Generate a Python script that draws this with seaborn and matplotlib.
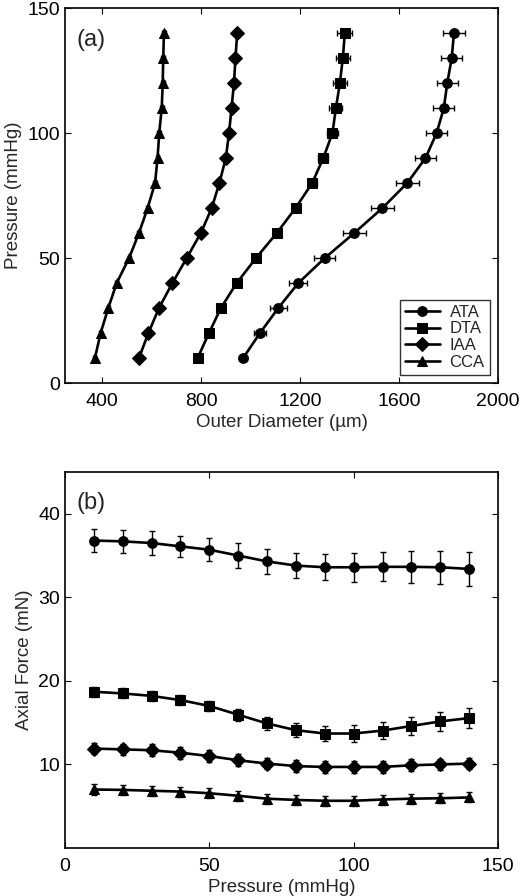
import numpy as np
import pandas as pd
import seaborn as sns
import matplotlib.pyplot as plt

# 压力点
pressure = [10, 20, 30, 40, 50, 60, 70, 80, 90, 100, 110, 120, 130, 140]
arteries = ["ATA", "DTA", "IAA", "CCA"]
marker_map = {"ATA": "o", "DTA": "s", "IAA": "D", "CCA": "^"}

# (a) 外径 (µm)
od_ata = [970, 1038, 1112, 1193, 1300, 1419, 1533, 1633, 1707, 1752, 1781, 1795, 1813, 1822]
od_dta = [786, 832, 880, 944, 1022, 1106, 1182, 1249, 1294, 1331, 1345, 1361, 1373, 1381]
od_iaa = [549, 587, 630, 684, 742, 799, 843, 874, 900, 913, 923, 933, 939, 946]
od_cca = [371, 394, 425, 459, 509, 549, 584, 614, 624, 631, 641, 645, 647, 650]
od_ata_err = [15, 26, 34, 37, 43, 46, 47, 46, 42, 43, 42, 42, 42, 43]
od_dta_err = [12, 12, 12, 13, 14, 15, 16, 18, 20, 23, 26, 28, 28, 30]
od_iaa_err = [8, 8, 8, 8, 8, 9, 9, 10, 10, 10, 10, 11, 11, 12]
od_cca_err = [6, 6, 6, 6, 6, 7, 7, 7, 7, 8, 8, 8, 8, 8]

# (b) 轴向力 (mN)
f_ata = [36.8, 36.7, 36.5, 36.1, 35.7, 35.0, 34.3, 33.8, 33.6, 33.6, 33.65, 33.65, 33.6, 33.4]
f_dta = [18.7, 18.5, 18.2, 17.7, 17.0, 15.95, 14.9, 14.1, 13.7, 13.7, 14.05, 14.6, 15.15, 15.55]
f_iaa = [11.9, 11.8, 11.7, 11.4, 11.0, 10.5, 10.1, 9.8, 9.7, 9.7, 9.7, 9.9, 10.0, 10.1]
f_cca = [7.0, 6.95, 6.85, 6.75, 6.55, 6.25, 5.9, 5.75, 5.65, 5.65, 5.8, 5.9, 5.95, 6.05]
f_ata_err = [1.4, 1.4, 1.4, 1.3, 1.4, 1.45, 1.5, 1.5, 1.55, 1.75, 1.75, 1.9, 2.0, 2.05]
f_dta_err = [0.6, 0.6, 0.6, 0.6, 0.65, 0.7, 0.8, 0.85, 0.9, 1.0, 1.05, 1.05, 1.1, 1.15]
f_iaa_err = [0.7, 0.7, 0.7, 0.7, 0.7, 0.7, 0.7, 0.7, 0.7, 0.7, 0.7, 0.7, 0.7, 0.7]
f_cca_err = [0.6, 0.6, 0.6, 0.6, 0.6, 0.6, 0.6, 0.6, 0.6, 0.6, 0.6, 0.6, 0.6, 0.6]

od = {"ATA": od_ata, "DTA": od_dta, "IAA": od_iaa, "CCA": od_cca}
od_err = {"ATA": od_ata_err, "DTA": od_dta_err, "IAA": od_iaa_err, "CCA": od_cca_err}
force = {"ATA": f_ata, "DTA": f_dta, "IAA": f_iaa, "CCA": f_cca}
force_err = {"ATA": f_ata_err, "DTA": f_dta_err, "IAA": f_iaa_err, "CCA": f_cca_err}

rows = []
for a in arteries:
    for i, p in enumerate(pressure):
        rows.append({"artery": a, "pressure": p, "od": od[a][i], "od_err": od_err[a][i],
                     "force": force[a][i], "force_err": force_err[a][i]})
df = pd.DataFrame(rows)

sns.set_theme(style="ticks")
plt.rcParams['font.family'] = ['Liberation Sans', 'DejaVu Sans']
plt.rcParams['xtick.direction'] = 'in'
plt.rcParams['ytick.direction'] = 'in'

fig = plt.figure(figsize=(5.22, 8.96), dpi=100)
ax1 = fig.add_axes([0.1245, 0.5725, 0.8295, 0.4185])
ax2 = fig.add_axes([0.1245, 0.0536, 0.8295, 0.4196])

# 误差棒
for a in arteries:
    d = df[df["artery"] == a]
    ax1.errorbar(d["od"], d["pressure"], xerr=d["od_err"], fmt="none", ecolor="black",
                 elinewidth=1, capsize=2.5, capthick=1, zorder=2)
    ax2.errorbar(d["pressure"], d["force"], yerr=d["force_err"], fmt="none", ecolor="black",
                 elinewidth=1, capsize=2.5, capthick=1, zorder=2)

sns.lineplot(data=df, x="od", y="pressure", style="artery", markers=marker_map, dashes=False,
             color="black", sort=False, orient="y", ax=ax1, linewidth=1.9, markersize=7,
             markeredgecolor="black", zorder=3)
sns.lineplot(data=df, x="pressure", y="force", style="artery", markers=marker_map, dashes=False,
             color="black", ax=ax2, linewidth=1.9, markersize=7,
             markeredgecolor="black", zorder=3, legend=False)

for ax in (ax1, ax2):
    ax.tick_params(top=True, right=True, labelsize=14, length=4, width=0.8, colors="black")
    ax.tick_params(axis="x", pad=7)
    for s in ax.spines.values():
        s.set_linewidth(1.2)
        s.set_color("black")

ax1.set_xlim(250, 2000)
ax1.set_ylim(0, 150)
ax1.set_xticks([400, 800, 1200, 1600, 2000])
ax1.set_yticks([0, 50, 100, 150])
ax1.set_xlabel("Outer Diameter (µm)", fontsize=13.5, labelpad=3)
ax1.set_ylabel("Pressure (mmHg)", fontsize=13.5, labelpad=4)
ax1.text(0.027, 0.915, "(a)", transform=ax1.transAxes, fontsize=17, va="center", ha="left")
leg = ax1.legend(loc="lower right", fontsize=12, frameon=True, fancybox=False, edgecolor="black",
                 handlelength=2.1, labelspacing=0.1, borderpad=0.3, handletextpad=0.6)
leg.get_frame().set_linewidth(1.0)
leg.set_title(None)

ax2.set_xlim(0, 150)
ax2.set_ylim(0, 45)
ax2.set_xticks([0, 50, 100, 150])
ax2.set_yticks([10, 20, 30, 40])
ax2.set_xlabel("Pressure (mmHg)", fontsize=13.5, labelpad=3)
ax2.set_ylabel("Axial Force (mN)", fontsize=13.5, labelpad=4)
ax2.text(0.027, 0.917, "(b)", transform=ax2.transAxes, fontsize=17, va="center", ha="left")

fig.savefig("out.png", dpi=100)
